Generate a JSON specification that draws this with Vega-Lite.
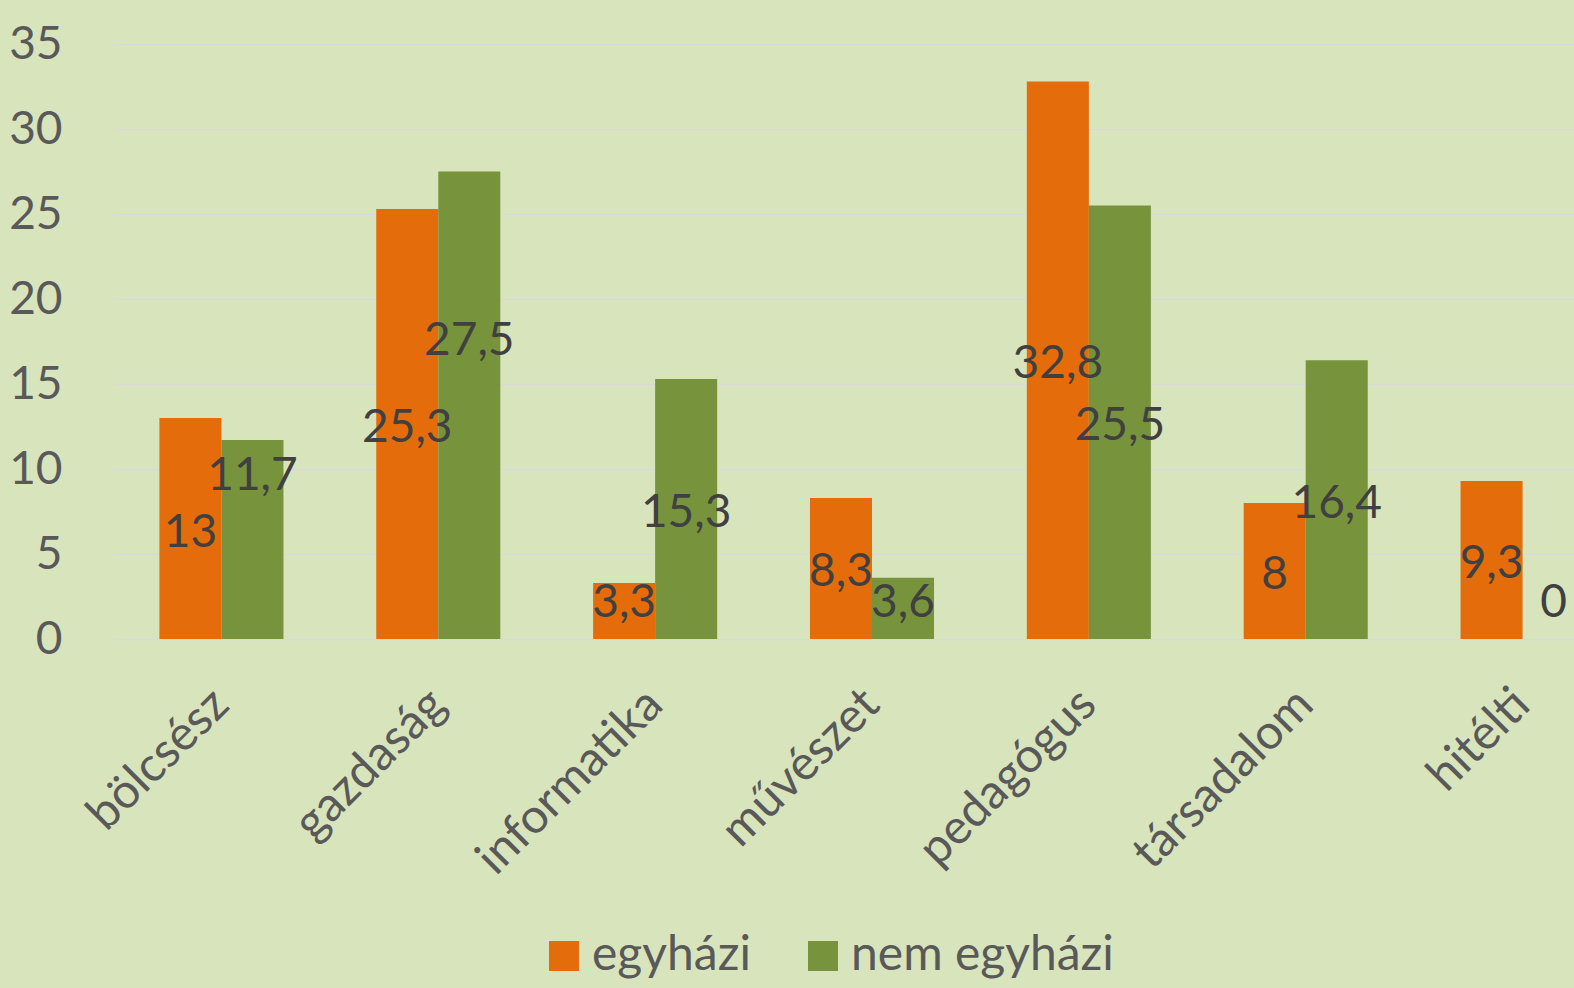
{
  "$schema": "https://vega.github.io/schema/vega-lite/v6.json",
  "width": 1462,
  "height": 595,
  "autosize": {"type": "none"},
  "padding": {"left": 112, "top": 44, "right": 0, "bottom": 349},
  "background": "#D8E4BC",
  "config": {
    "view": {"stroke": null},
    "font": "Lato",
    "locale": {"number": {"decimal": ",", "thousands": " ", "grouping": [3], "currency": ["", ""]}}
  },
  "data": {
    "values": [
      {"kat": "bölcsész", "csoport": "egyházi", "ertek": 13},
      {"kat": "bölcsész", "csoport": "nem egyházi", "ertek": 11.7},
      {"kat": "gazdaság", "csoport": "egyházi", "ertek": 25.3},
      {"kat": "gazdaság", "csoport": "nem egyházi", "ertek": 27.5},
      {"kat": "informatika", "csoport": "egyházi", "ertek": 3.3},
      {"kat": "informatika", "csoport": "nem egyházi", "ertek": 15.3},
      {"kat": "művészet", "csoport": "egyházi", "ertek": 8.3},
      {"kat": "művészet", "csoport": "nem egyházi", "ertek": 3.6},
      {"kat": "pedagógus", "csoport": "egyházi", "ertek": 32.8},
      {"kat": "pedagógus", "csoport": "nem egyházi", "ertek": 25.5},
      {"kat": "társadalom", "csoport": "egyházi", "ertek": 8},
      {"kat": "társadalom", "csoport": "nem egyházi", "ertek": 16.4},
      {"kat": "hitélti", "csoport": "egyházi", "ertek": 9.3},
      {"kat": "hitélti", "csoport": "nem egyházi", "ertek": 0}
    ]
  },
  "transform": [
    {"calculate": "datum.csoport === 'egyházi' ? datum.ertek : 0", "as": "egPart"},
    {"joinaggregate": [{"op": "sum", "field": "egPart", "as": "egVal"}], "groupby": ["kat"]},
    {"calculate": "max(datum.ertek / 2, 2.35)", "as": "midPos"},
    {"calculate": "datum.csoport === 'nem egyházi' && abs(datum.midPos - max(datum.egVal / 2, 2.35)) < 1.5 ? datum.midPos + 4 : datum.midPos", "as": "labelPos"}
  ],
  "encoding": {
    "x": {
      "field": "kat",
      "type": "nominal",
      "sort": ["bölcsész", "gazdaság", "informatika", "művészet", "pedagógus", "társadalom", "hitélti"],
      "scale": {"range": [1, 1519], "paddingInner": 0.428, "paddingOuter": 0.214},
      "axis": {
        "title": null,
        "domain": false,
        "ticks": false,
        "labelAngle": -45,
        "labelAlign": "right",
        "labelBaseline": "middle",
        "labelFont": "Lato",
        "labelFontSize": 48,
        "labelColor": "#595959",
        "labelPadding": 58,
        "labelLimit": 0
      }
    },
    "xOffset": {"field": "csoport", "type": "nominal", "sort": ["egyházi", "nem egyházi"]}
  },
  "layer": [
    {
      "mark": {"type": "bar"},
      "encoding": {
        "y": {
          "field": "ertek",
          "type": "quantitative",
          "scale": {"domain": [0, 35], "nice": false},
          "axis": {
            "title": null,
            "values": [0, 5, 10, 15, 20, 25, 30, 35],
            "domain": false,
            "ticks": false,
            "labelFont": "Lato",
            "labelFontSize": 46,
            "labelColor": "#595959",
            "labelPadding": 50,
            "gridColor": "#D9D9D9",
            "gridWidth": 1.5
          }
        },
        "color": {
          "field": "csoport",
          "type": "nominal",
          "scale": {"domain": ["egyházi", "nem egyházi"], "range": ["#E46C0A", "#77933C"]},
          "legend": {
            "orient": "none",
            "legendX": 428,
            "legendY": 888,
            "direction": "horizontal",
            "title": null,
            "padding": 0,
            "symbolType": "square",
            "symbolSize": 900,
            "symbolStrokeWidth": 0,
            "symbolOpacity": 1,
            "labelFont": "Lato",
            "labelFontSize": 48,
            "labelColor": "#595959",
            "labelOffset": 4,
            "labelLimit": 0,
            "columnPadding": 48
          }
        }
      }
    },
    {
      "mark": {"type": "text", "fontSize": 46, "font": "Lato", "color": "#404040", "baseline": "middle", "align": "center", "dy": 4},
      "encoding": {
        "y": {"field": "labelPos", "type": "quantitative"},
        "text": {"field": "ertek", "type": "quantitative", "format": ".3~r"}
      }
    }
  ]
}
